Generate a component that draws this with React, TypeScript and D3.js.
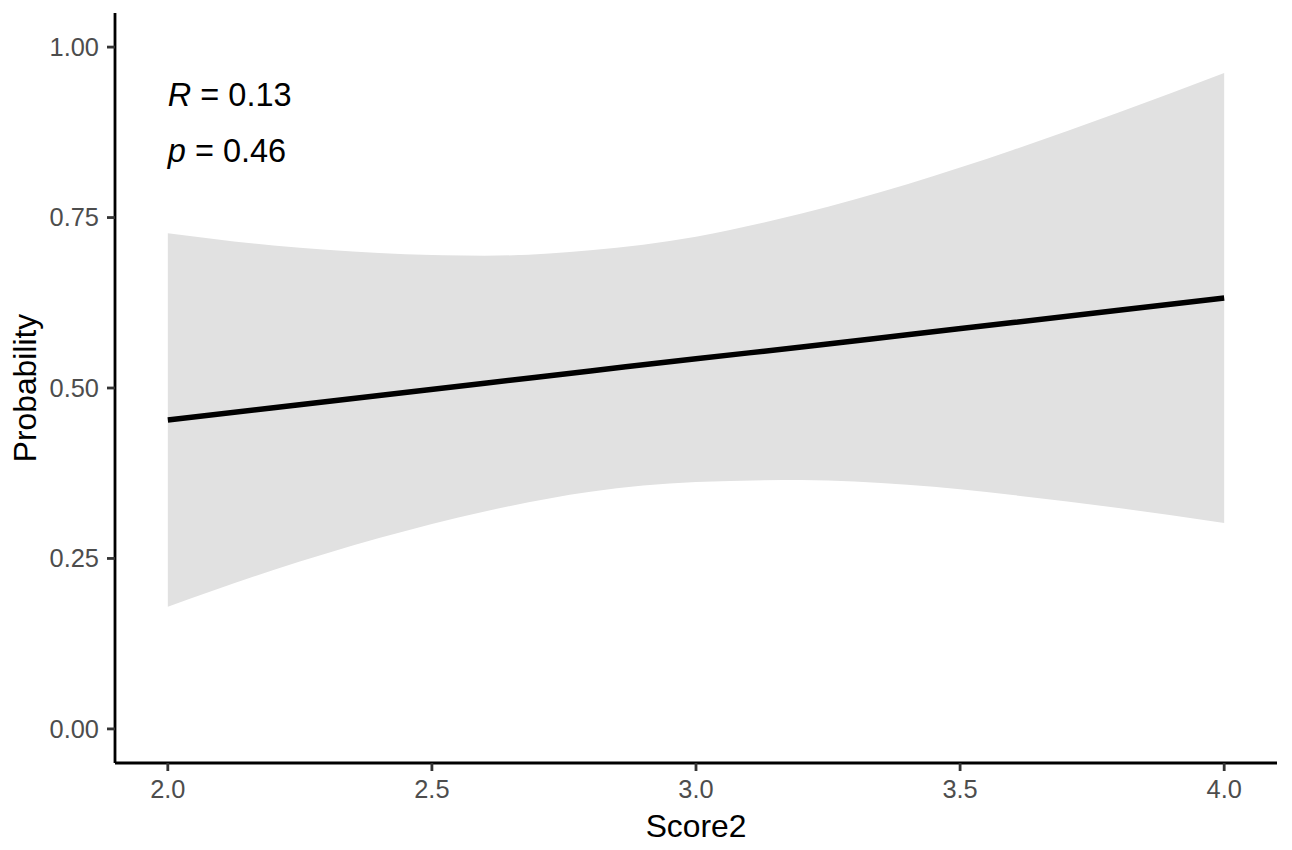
import React from "react";
import * as d3 from "d3";

// Data
const xValues = [2.0, 2.2, 2.4, 2.6, 2.8, 3.0, 3.2, 3.4, 3.6, 3.8, 4.0];
const fitValues = [0.453, 0.471, 0.489, 0.507, 0.525, 0.543, 0.56, 0.578, 0.596, 0.614, 0.632];
const upperValues = [0.727, 0.709, 0.698, 0.694, 0.702, 0.722, 0.756, 0.799, 0.849, 0.904, 0.962];
const lowerValues = [0.179, 0.233, 0.28, 0.319, 0.348, 0.362, 0.365, 0.358, 0.343, 0.324, 0.302];

const xTicks = [2.0, 2.5, 3.0, 3.5, 4.0];
const xTickLabels = ["2.0", "2.5", "3.0", "3.5", "4.0"];
const yTicks = [0, 0.25, 0.5, 0.75, 1.0];
const yTickLabels = ["0.00", "0.25", "0.50", "0.75", "1.00"];

const corR = "0.13";
const corP = "0.46";
const xTitle = "Score2";
const yTitle = "Probability";

const W = 1292;
const H = 850;
const FONT = "'Liberation Sans', Arial, Helvetica, sans-serif";

export default function App() {
  const x = d3.scaleLinear().domain([1.9, 4.1]).range([115, 1277]);
  const y = d3.scaleLinear().domain([-0.05, 1.05]).range([763, 13]);

  const rows = xValues.map((v, i) => ({
    x: v,
    fit: fitValues[i],
    lo: lowerValues[i],
    hi: upperValues[i],
  }));

  const area = d3
    .area<any>()
    .x((d) => x(d.x))
    .y0((d) => y(d.lo))
    .y1((d) => y(d.hi))
    .curve(d3.curveMonotoneX);

  const line = d3
    .line<any>()
    .x((d) => x(d.x))
    .y((d) => y(d.fit))
    .curve(d3.curveMonotoneX);

  const [x0, x1] = x.range();
  const [yb, yt] = y.range();

  return (
    <svg
      width={W}
      height={H}
      style={{ position: "absolute", left: 0, top: 0, background: "#fff" }}
      fontFamily={FONT}
    >
      <rect x={0} y={0} width={W} height={H} fill="#ffffff" />
      <path d={area(rows) || ""} fill="#E1E1E1" stroke="none" />
      <path d={line(rows) || ""} fill="none" stroke="#000" strokeWidth={5.5} />

      {/* axes lines */}
      <line x1={x0} x2={x1} y1={yb} y2={yb} stroke="#000" strokeWidth={2.8} />
      <line x1={x0} x2={x0} y1={yt} y2={yb} stroke="#000" strokeWidth={2.8} />

      {/* y ticks */}
      {yTicks.map((t, i) => (
        <g key={"y" + i}>
          <line x1={x0 - 8} x2={x0} y1={y(t)} y2={y(t)} stroke="#333" strokeWidth={2.8} />
          <text
            x={99}
            y={y(t)}
            dy="0.35em"
            textAnchor="end"
            fontSize={25.4}
            fill="#4D4D4D"
          >
            {yTickLabels[i]}
          </text>
        </g>
      ))}

      {/* x ticks */}
      {xTicks.map((t, i) => (
        <g key={"x" + i}>
          <line x1={x(t)} x2={x(t)} y1={yb} y2={yb + 8} stroke="#333" strokeWidth={2.8} />
          <text x={x(t)} y={798} textAnchor="middle" fontSize={25.4} fill="#4D4D4D">
            {xTickLabels[i]}
          </text>
        </g>
      ))}

      {/* axis titles */}
      <text x={(x0 + x1) / 2} y={837} textAnchor="middle" fontSize={31.8} fill="#000">
        {xTitle}
      </text>
      <text
        transform={`translate(36, ${(yt + yb) / 2}) rotate(-90)`}
        textAnchor="middle"
        fontSize={31.8}
        fill="#000"
      >
        {yTitle}
      </text>

      {/* correlation annotation */}
      <text x={x(2.0)} y={106} fontSize={32.5} fill="#000">
        <tspan fontStyle="italic">R</tspan>
        <tspan> = {corR}</tspan>
      </text>
      <text x={x(2.0)} y={162} fontSize={32.5} fill="#000">
        <tspan fontStyle="italic">p</tspan>
        <tspan> = {corP}</tspan>
      </text>
    </svg>
  );
}
